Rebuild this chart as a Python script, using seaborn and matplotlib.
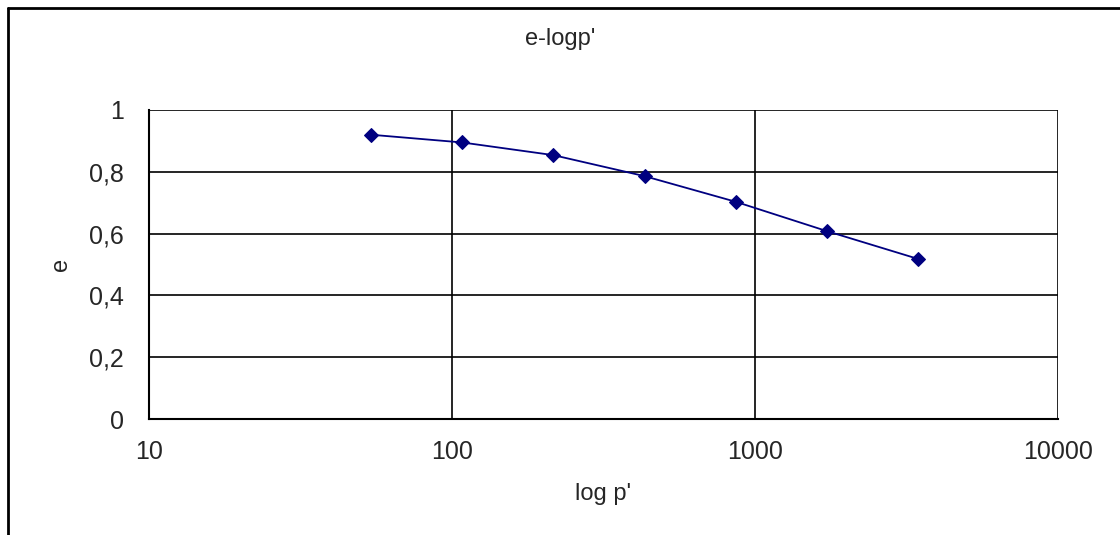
import matplotlib
matplotlib.use("Agg")
import matplotlib.pyplot as plt
import matplotlib.ticker as mticker
from matplotlib.lines import Line2D
import seaborn as sns
import pandas as pd

# consolidation data: effective pressure p' vs void ratio e
pressure = [54, 108, 216, 432, 864, 1728, 3456]
void_ratio = [0.920, 0.895, 0.854, 0.786, 0.703, 0.608, 0.518]
y_ticks = [0, 0.2, 0.4, 0.6, 0.8, 1.0]
x_ticks = [10, 100, 1000, 10000]

df = pd.DataFrame({"p": pressure, "e": void_ratio})

sns.set_style("white")
plt.rcParams["font.family"] = ["Liberation Sans", "DejaVu Sans"]

fig = plt.figure(figsize=(11.2, 5.35), dpi=100)
ax = fig.add_axes([0.133, 0.2168, 0.8116, 0.5776])

sns.lineplot(data=df, x="p", y="e", ax=ax, color="#000080", marker="D",
             markersize=7, markeredgecolor="#000080", linewidth=1.3)

ax.set_xscale("log")
ax.set_xlim(10, 10000)
ax.set_ylim(0, 1)
ax.set_xticks(x_ticks)
ax.xaxis.set_major_formatter(mticker.FuncFormatter(lambda v, p: f"{v:g}"))
ax.xaxis.set_minor_locator(mticker.NullLocator())
ax.set_yticks(y_ticks)
ax.yaxis.set_major_formatter(
    mticker.FuncFormatter(lambda v, p: f"{v:g}".replace(".", ",")))

ax.grid(True, color="black", linewidth=1.2)
for side in ["top", "right"]:
    ax.spines[side].set_visible(False)
for side in ["left", "bottom"]:
    ax.spines[side].set_color("black")
    ax.spines[side].set_linewidth(1.5)
ax.tick_params(axis="y", length=0, pad=18, labelsize=18)
ax.tick_params(axis="x", length=0, pad=15, labelsize=18)

ax.set_xlabel("log p'", fontsize=17, labelpad=14)
ax.set_ylabel("e", fontsize=17, labelpad=12)
fig.text(0.50, 0.927, "e-logp'", ha="center", va="center", fontsize=17)

# outer chart border (left and top only visible)
fig.add_artist(Line2D([0.0068, 0.0068], [0, 0.985], color="black", linewidth=2,
                      transform=fig.transFigure))
fig.add_artist(Line2D([0.0068, 1.0], [0.985, 0.985], color="black", linewidth=2,
                      transform=fig.transFigure))

fig.savefig("out.png", dpi=100)
